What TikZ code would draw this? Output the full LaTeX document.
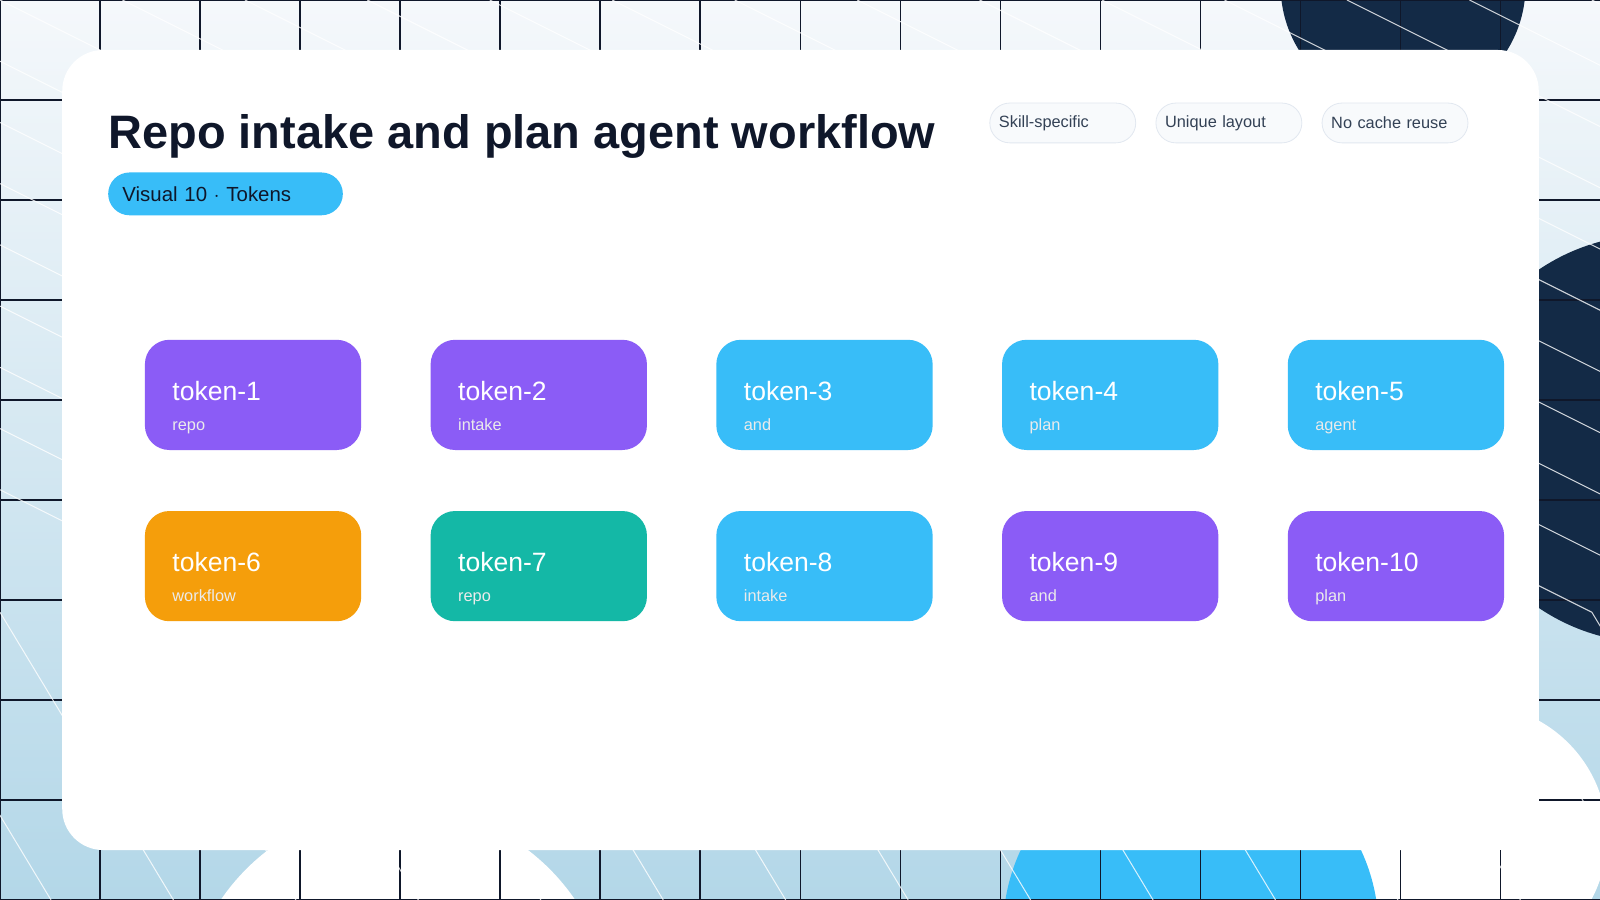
\documentclass[tikz,border=0pt]{standalone}
\usepackage{fontspec}
\setmainfont{Liberation Sans}
\usetikzlibrary{positioning}
\definecolor{navy}{HTML}{132A46}
\definecolor{ink}{HTML}{0F172A}
\definecolor{sky}{HTML}{38BDF8}
\definecolor{violet}{HTML}{8B5CF6}
\definecolor{amber}{HTML}{F59E0B}
\definecolor{teal}{HTML}{14B8A6}
\definecolor{chipbg}{HTML}{F8FAFC}
\definecolor{chipline}{HTML}{E2E8F0}
\definecolor{chiptext}{HTML}{334155}
\definecolor{paleblue}{HTML}{B3D7E8}
\definecolor{toppale}{HTML}{F5F8FB}

\begin{document}
\begin{tikzpicture}[
    x=0.5pt, y=-0.5pt,
    token/.style={rounded corners=12pt, minimum width=106pt, minimum height=54pt, inner sep=0pt},
    tokname/.style={anchor=base west, text=white, font=\fontsize{13}{15}\selectfont, inner sep=0pt, xshift=13.5pt, yshift=-2.5pt},
    toksub/.style={anchor=base west, text=white!92!black, font=\fontsize{8}{10}\selectfont, inner sep=0pt, xshift=13.5pt, yshift=-17.5pt},
    chip/.style={draw=chipline, fill=chipbg, rounded corners=9.75pt, minimum width=71.5pt, minimum height=19.5pt, inner sep=0pt, text width=62.5pt, align=left, text=chiptext, font=\fontsize{8}{10}\selectfont},
    node distance=29.5pt and 33.6pt
]
\useasboundingbox (0,0) rectangle (1568,882);

% backdrop
\shade[top color=toppale, bottom color=paleblue] (0,0) rectangle (1568,882);
\begin{scope}
\clip (0,0) rectangle (1568,882);
\fill[white] (390,1000) circle (210);
\fill[white] (1445,820) circle (130);
\fill[sky] (1167,911) circle (184);
\fill[navy] (1375,-14) circle (120);
\fill[navy] (1620,430) circle (200);
% grid
\foreach \g in {0,98,...,1568} \draw[ink, line width=0.5pt] (\g,0) -- (\g,882);
\foreach \g in {0,98,...,882} \draw[ink, line width=0.5pt] (0,\g) -- (1568,\g);
% diagonal strokes
\foreach \i in {-8,...,16} \draw[white, opacity=0.8, line width=0.5pt] (\i*120,0) -- ++(1200,600);
\foreach \i in {-2,...,14} \draw[white, opacity=0.8, line width=0.5pt] (\i*120,600) -- ++(170,282);
\end{scope}

% card
\fill[white, rounded corners=20pt] (61,49) rectangle (1508,833);

% heading
\node[anchor=base west, inner sep=0pt, text=ink, font=\fontsize{23}{27}\bfseries\selectfont] (title) at (106,146) {Repo intake and plan agent workflow};
\node[fill=sky, rounded corners=10.5pt, minimum width=115pt, minimum height=21pt, inner sep=0pt, text width=101pt, align=left, text=ink, font=\fontsize{10}{12}\selectfont] (badge) at (221,190) {Visual 10 $\cdot$ Tokens};

% chips
\node[chip] (skill) at (1041.5,120.5) {Skill-specific};
\node[chip, right=9.5pt of skill] (layout) {Unique layout};
\node[chip, right=9.5pt of layout] (cache) {No cache reuse};

% first row
\node[token, fill=violet] (t1) at (248,387) {};
\node[token, fill=violet, right=of t1] (t2) {};
\node[token, fill=sky, right=of t2] (t3) {};
\node[token, fill=sky, right=of t3] (t4) {};
\node[token, fill=sky, right=of t4] (t5) {};

% second row
\node[token, fill=amber, below=of t1] (t6) {};
\node[token, fill=teal, right=of t6] (t7) {};
\node[token, fill=sky, right=of t7] (t8) {};
\node[token, fill=violet, right=of t8] (t9) {};
\node[token, fill=violet, right=of t9] (t10) {};

% labels
\foreach \n/\w [count=\k] in {t1/repo, t2/intake, t3/and, t4/plan, t5/agent, t6/workflow, t7/repo, t8/intake, t9/and, t10/plan} {
    \node[tokname] (\n name) at (\n.west) {token-\k};
    \node[toksub] (\n sub) at (\n.west) {\w};
}
\end{tikzpicture}
\end{document}
